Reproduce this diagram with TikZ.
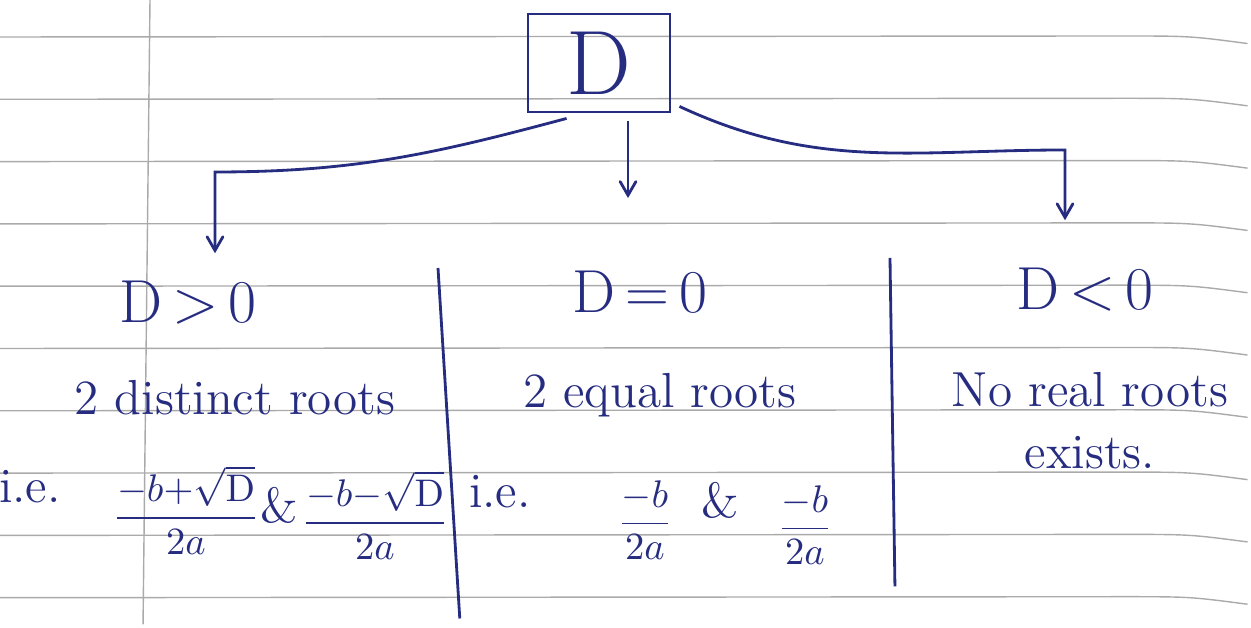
\documentclass[tikz,border=0pt]{standalone}
\usepackage{amsmath, amssymb}
\usepackage{tikz}
\usetikzlibrary{arrows,positioning}

\definecolor{ink}{RGB}{38,44,128}
\definecolor{paperline}{RGB}{170,170,170}

\begin{document}
\begin{tikzpicture}[x=0.01cm,y=-0.01cm,->,>=angle 60,shorten >=1pt,thick,color=ink,
                    box node/.style={rectangle,draw,minimum width=1.42cm,minimum height=0.98cm,font=\fontsize{26}{30}\selectfont},
                    head node/.style={font=\fontsize{18}{21}\selectfont},
                    txt node/.style={font=\fontsize{14}{17}\selectfont},
                    frac node/.style={font=\fontsize{10.5}{13}\selectfont}]

  \useasboundingbox (0,0) rectangle (1251,628);

  % notebook page
  \foreach \k in {0,...,9}
    \draw[-,thin,paperline] (0,{37+62.3*\k}) -- (1120,{36+62.3*\k})
      .. controls (1190,{36+62.3*\k}) .. (1251,{44+62.3*\k});
  \draw[-,thin,paperline] (150,0) -- (143,628);

  \node[box node] (top) at (599,63) {D};

  \node[head node] (gt) at (188,303) {$\mathrm{D}\,{>}\,0$};
  \node[head node] (eq) at (640,292) {$\mathrm{D}\,{=}\,0$};
  \node[head node] (lt) at (1085,290) {$\mathrm{D}\,{<}\,0$};

  \node[txt node] (gtt) at (235,398) {2 distinct roots};
  \node[txt node] (eqt) at (660,395) {2 equal roots};
  \node[txt node] (ltt) at (1090,390) {No real roots};
  \node[txt node] (ltx) [below of=ltt, node distance=0.63cm] {exists.};

  \node[txt node] (ie1) at (30,487) {i.e.};
  \node[frac node] (r1) at (186,510) {$\dfrac{-b{+}\sqrt{\mathrm{D}}}{2a}$};
  \node[txt node] (and1) at (279,505) {\&};
  \node[frac node] (r2) at (375,515) {$\dfrac{-b{-}\sqrt{\mathrm{D}}}{2a}$};

  \node[txt node] (ie2) at (500,492) {i.e.};
  \node[frac node] (r3) at (645,520) {$\dfrac{-b}{2a}$};
  \node[txt node] (and2) at (720,500) {\&};
  \node[frac node] (r4) at (805,525) {$\dfrac{-b}{2a}$};

  \coordinate (lturn) at (215,172);
  \coordinate (rturn) at (1065,150);

  % branches
  \draw[shorten >=0.15cm] ([xshift=0.4cm,yshift=-0.05cm]top.south west)
    to[out=195,in=0] (lturn) -- (lturn |- gt.north);
  \draw[shorten >=0.6cm] ([xshift=0.29cm,yshift=-0.08cm]top.south)
    -- ([xshift=0.29cm]top.south |- eq.north);
  \draw[shorten >=0.35cm] ([xshift=0.08cm,yshift=0.07cm]top.south east)
    to[out=-25,in=180] (rturn) -- (rturn |- lt.north);

  % column dividers
  \draw[-] (438,268) -- (460,622);
  \draw[-] (890,258) -- (895,590);
\end{tikzpicture}
\end{document}
